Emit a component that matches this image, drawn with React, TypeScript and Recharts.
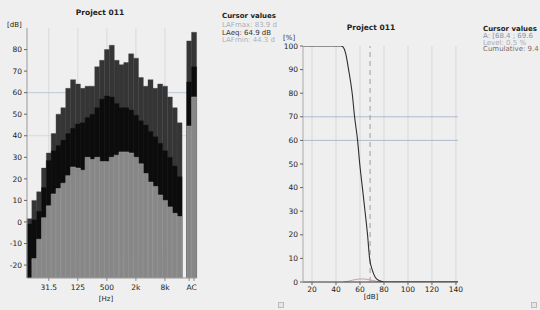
import React from "react";
import { BarChart, Bar, XAxis, YAxis, ReferenceLine, LineChart, Line, CartesianGrid } from "recharts";

// ---------- Left chart: 1/3-octave spectrum ----------
const bands = ["12.5","16","20","25","31.5","40","50","63","80","100","125","160","200","250","315","400","500","630","800","1k","1.25k","1.6k","2k","2.5k","3.15k","4k","5k","6.3k","8k","10k","12.5k","16k"];
const lmax = [1.5,10,14,25,32,41,50,53,62,66,64,62,63,63,72,75,80,82,75,73,74,78,76,67,63,66,62,64,63,58,53,46];
const leq = [-1,1,5,16,28.5,33,35.5,38,41,43.5,45.5,46,48.5,50,53,57,58.5,58,55,53,53,52,49.5,47,45,42,39.5,36.5,33,30,26,21];
const lmin: (number | null)[] = [null,-17,-8,2,7.5,13,15.5,18,21.5,25.5,25,24,30,29,30,28,28,30,31,32.5,32.5,32,30,27,22.5,18.5,16.5,12.5,10,7,4,2.5];
const broadband = ["A", "C"];
const bbMax = [84, 88];
const bbEq = [65, 72];
const bbMin = [44.5, 58];
const freqTickLabels = ["31.5", "125", "500", "2k", "8k"];
const dbTicks = [-20, -10, 0, 10, 20, 30, 40, 50, 60, 70, 80];

// ---------- Right chart: statistics ----------
const cumDb = [12.5, 44, 46, 48, 50.5, 53.5, 55.5, 58, 59.8, 62, 64.2, 66.3, 68, 70.3, 72.7, 76.5, 80, 141.7];
const cumPct = [100, 100, 99.5, 97, 90, 80, 70, 60, 50, 40, 30, 20, 10, 5, 2, 0.5, 0, 0];
const levelDb = [46, 50, 54, 58, 62, 66, 70, 74, 78];
const levelPct = [0, 0.3, 0.8, 1.2, 1.3, 1.1, 0.7, 0.3, 0];
const statXTicks = [20, 40, 60, 80, 100, 120, 140];
const statYTicks = [0, 10, 20, 30, 40, 50, 60, 70, 80, 90, 100];
const cursorDb = 68.4;

const Y_MIN = -26;
const Y_MAX = 90;

const spectrumRows = [
  ...bands.map((name, i) => ({ name, lmax: lmax[i], leq: leq[i], lmin: lmin[i] })),
  { name: "", lmax: null, leq: null, lmin: null },
  ...broadband.map((name, i) => ({ name, lmax: bbMax[i], leq: bbEq[i], lmin: bbMin[i] })),
];
const cumData = cumDb.map((x, i) => ({ x, y: cumPct[i] }));
const levelData = levelDb.map((x, i) => ({ x, y: levelPct[i] }));

const FONT = "'DejaVu Sans', Verdana, sans-serif";
const L_W = 210;
const L_MARGIN = { top: 28, right: 13.6, bottom: 0, left: 0 };
const L_YAXIS_W = 27;
const L_PLOT_W = L_W - L_MARGIN.right - L_MARGIN.left - L_YAXIS_W;
const BAND = L_PLOT_W / spectrumRows.length;

const range = (key: "lmax" | "leq" | "lmin") => (d: any) =>
  d[key] == null ? null : [Y_MIN, d[key]];

function FreqTick(props: any) {
  const { x, y, payload } = props;
  const v = payload.value;
  const tick = (cx: number) => (
    <line x1={cx} x2={cx} y1={y - 7} y2={y - 4} stroke="#666" strokeWidth={0.7} />
  );
  if (v === "A") {
    return (
      <g>
        {tick(x)}
        <text x={x + BAND / 2} y={y} dy="0.71em" textAnchor="middle" fontSize={7.5} fill="#222" fontFamily={FONT}>
          AC
        </text>
      </g>
    );
  }
  if (v === "C") return <g>{tick(x)}</g>;
  if (!freqTickLabels.includes(v)) return <g />;
  return (
    <g>
      {tick(x)}
      <text x={x} y={y} dy="0.71em" textAnchor="middle" fontSize={7.5} fill="#222" fontFamily={FONT}>
        {v}
      </text>
    </g>
  );
}

const txt = (s: React.CSSProperties): React.CSSProperties => ({
  position: "absolute",
  fontFamily: FONT,
  fontSize: 7,
  lineHeight: "8px",
  whiteSpace: "nowrap",
  color: "#222",
  ...s,
});

export default function App() {
  const tickStyle = { fontSize: 7.5, fill: "#222", fontFamily: FONT };
  return (
    <div style={{ position: "absolute", left: 0, top: 0, width: 540, height: 310, overflow: "hidden", background: "#efefef" }}>
      {/* Left spectrum */}
      <div style={{ position: "absolute", left: 0, top: 0 }}>
        <BarChart width={L_W} height={310} data={spectrumRows} margin={L_MARGIN} barCategoryGap={0} barGap={0}>
          <CartesianGrid xAxisId="0" horizontal={false} vertical verticalValues={freqTickLabels} stroke="#d4d4d4" strokeWidth={0.8} />
          <CartesianGrid xAxisId="0" vertical={false} horizontal horizontalValues={[60]} stroke="#b7c4d2" strokeWidth={0.9} />
          <CartesianGrid xAxisId="0" vertical={false} horizontal horizontalValues={[40]} stroke="#ccd4de" strokeWidth={0.8} />
          <XAxis xAxisId="0" dataKey="name" interval={0} height={32} tick={<FreqTick />} tickLine={false} tickSize={4} tickMargin={3} axisLine={{ stroke: "#999" }} />
          <XAxis xAxisId="1" dataKey="name" hide />
          <XAxis xAxisId="2" dataKey="name" hide />
          <YAxis type="number" domain={[Y_MIN, Y_MAX]} ticks={dbTicks} interval={0} width={L_YAXIS_W} tick={tickStyle} tickSize={3} tickMargin={2} tickLine={{ stroke: "#666" }} axisLine={{ stroke: "#999" }} allowDataOverflow />
          <Bar xAxisId="0" dataKey={range("lmax")} fill="#353535" stroke="#444" strokeWidth={0.4} isAnimationActive={false} />
          <Bar xAxisId="1" dataKey={range("leq")} fill="#0c0c0c" stroke="#1a1a1a" strokeWidth={0.4} isAnimationActive={false} />
          <Bar xAxisId="2" dataKey={range("lmin")} fill="#878787" stroke="#a2a2a2" strokeWidth={0.5} isAnimationActive={false} />
        </BarChart>
      </div>
      <div style={txt({ left: 60, width: 80, top: 9, textAlign: "center", fontWeight: "bold", fontSize: 7.5 })}>Project 011</div>
      <div style={txt({ left: 7, top: 21 })}>[dB]</div>
      <div style={txt({ left: 96, width: 20, top: 295, textAlign: "center" })}>[Hz]</div>

      {/* Left cursor values */}
      <div style={txt({ left: 222, top: 11.5, fontWeight: "bold" })}>Cursor values</div>
      <div style={txt({ left: 222, top: 21, color: "#a9b0ba" })}>LAFmax: 83.9 d</div>
      <div style={txt({ left: 222, top: 28.5, color: "#333" })}>LAeq: 64.9 dB</div>
      <div style={txt({ left: 222, top: 36, color: "#adb2ba" })}>LAFmin: 44.3 d</div>
      <div style={txt({ left: 283, top: 34, color: "#333" })}>[%]</div>

      {/* Right statistics */}
      <div style={{ position: "absolute", left: 270, top: 0 }}>
        <LineChart width={200} height={310} margin={{ top: 46, right: 12, bottom: 0, left: 0 }}>
          <CartesianGrid horizontal={false} vertical verticalValues={statXTicks} stroke="#d2d2d2" strokeWidth={0.8} />
          <CartesianGrid vertical={false} horizontal horizontalValues={[60, 70]} stroke="#a8b6c6" strokeWidth={0.9} />
          <XAxis type="number" dataKey="x" domain={[12.5, 141.7]} ticks={statXTicks} interval={0} height={28} tick={tickStyle} tickSize={3} tickMargin={2} tickLine={{ stroke: "#666" }} axisLine={{ stroke: "#333" }} allowDataOverflow />
          <YAxis type="number" dataKey="y" domain={[0, 100]} ticks={statYTicks} interval={0} width={33} tick={tickStyle} tickSize={3} tickMargin={2} tickLine={{ stroke: "#666" }} axisLine={{ stroke: "#aaa" }} allowDataOverflow />
          <ReferenceLine x={cursorDb} stroke="#9c9c9c" strokeWidth={1} strokeDasharray="5 4" />
          <Line data={levelData} dataKey="y" type="monotone" stroke="#c4a2a2" strokeWidth={1} dot={false} isAnimationActive={false} />
          <Line data={cumData} dataKey="y" type="monotone" stroke="#2e2e2e" strokeWidth={1.1} dot={false} isAnimationActive={false} />
        </LineChart>
      </div>
      <div style={txt({ left: 331, width: 80, top: 24, textAlign: "center", fontWeight: "bold", fontSize: 7.5 })}>Project 011</div>
      <div style={txt({ left: 361, width: 20, top: 293, textAlign: "center" })}>[dB]</div>

      {/* Right cursor values */}
      <div style={txt({ left: 483, top: 25, fontWeight: "bold" })}>Cursor values</div>
      <div style={txt({ left: 483, top: 32, color: "#8593ab" })}>A: [68.4 ; 69.6</div>
      <div style={txt({ left: 483, top: 38.5, color: "#a6abb2" })}>Level: 0.5 %</div>
      <div style={txt({ left: 483, top: 45, color: "#6f6f6f" })}>Cumulative: 9.4</div>

      {/* small panel icons */}
      <div style={{ position: "absolute", left: 278, top: 302, width: 4, height: 4, border: "1px solid #bbb", background: "#e6e6e6" }} />
      <div style={{ position: "absolute", left: 531, top: 302, width: 4, height: 4, border: "1px solid #bbb", background: "#e6e6e6" }} />
    </div>
  );
}
